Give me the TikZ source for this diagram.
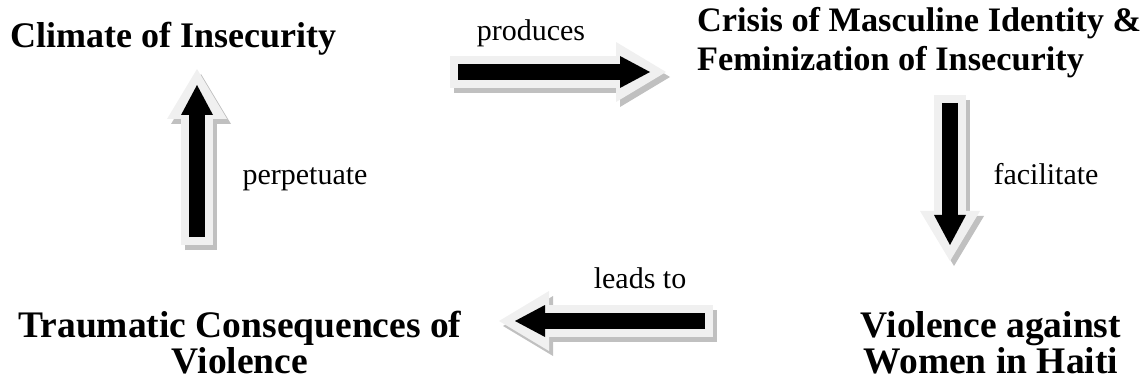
\documentclass[tikz,border=0pt]{standalone}
\usepackage{fontspec}
\setmainfont{Liberation Serif}
\usetikzlibrary{arrows.meta}
\definecolor{rimgray}{RGB}{240,240,240}
\definecolor{shadowgray}{RGB}{192,192,192}
\begin{document}
\begin{tikzpicture}[x=1pt,y=1pt]
\tikzstyle{every node}+=[inner sep=0pt]
\tikzstyle{title}=[font=\fontsize{36}{39}\selectfont\bfseries]
\tikzstyle{label}=[font=\fontsize{30}{34}\selectfont]
\tikzstyle{blockarrow}=[draw=black, line width=16pt, -{Triangle[length=30pt,width=32pt,line width=0pt]},
  preaction={draw=shadowgray, line width=32pt, -{Triangle[length=50pt,width=60pt,line width=0pt]}, shorten <=-8pt, shorten >=-16pt, transform canvas={shift={(4pt,-5pt)}}},
  preaction={draw=rimgray, line width=32pt, -{Triangle[length=50pt,width=60pt,line width=0pt]}, shorten <=-8pt, shorten >=-16pt}]
\useasboundingbox (0,0) rectangle (1147,-387);
\node [title, anchor=base west] (climate) at (10,-48) {Climate of Insecurity};
\node [title, anchor=base west, align=left, font=\fontsize{34.3}{39}\selectfont\bfseries] (crisis) at (697,-71) {Crisis of Masculine Identity \&\\Feminization of Insecurity};
\node [title, anchor=base, align=center, font=\fontsize{37.5}{30}\selectfont\bfseries] (violence) at (991,-373) {Violence against\\Women in Haiti};
\node [title, anchor=base, align=center, font=\fontsize{37.5}{30}\selectfont\bfseries] (trauma) at (240,-373) {Traumatic Consequences of\\Violence};
\coordinate (produces tail) at (458,-72);
\coordinate (produces head) at (650,-72);
\coordinate (facilitate tail) at (950,-103);
\coordinate (facilitate head) at (950,-245);
\coordinate (leads tail) at (705,-321);
\coordinate (leads head) at (515,-321);
\coordinate (perpetuate tail) at (197,-237);
\coordinate (perpetuate head) at (197,-85);
\draw [blockarrow] (produces tail) -- (produces head);
\draw [blockarrow] (facilitate tail) -- (facilitate head);
\draw [blockarrow] (leads tail) -- (leads head);
\draw [blockarrow] (perpetuate tail) -- (perpetuate head);
\node [label, anchor=base] (produces) at (531,-41) {produces};
\node [label, anchor=base] (facilitate) at (1046,-185) {facilitate};
\node [label, anchor=base] (leads) at (640,-288) {leads to};
\node [label, anchor=base] (perpetuate) at (305,-185) {perpetuate};
\end{tikzpicture}
\end{document}
